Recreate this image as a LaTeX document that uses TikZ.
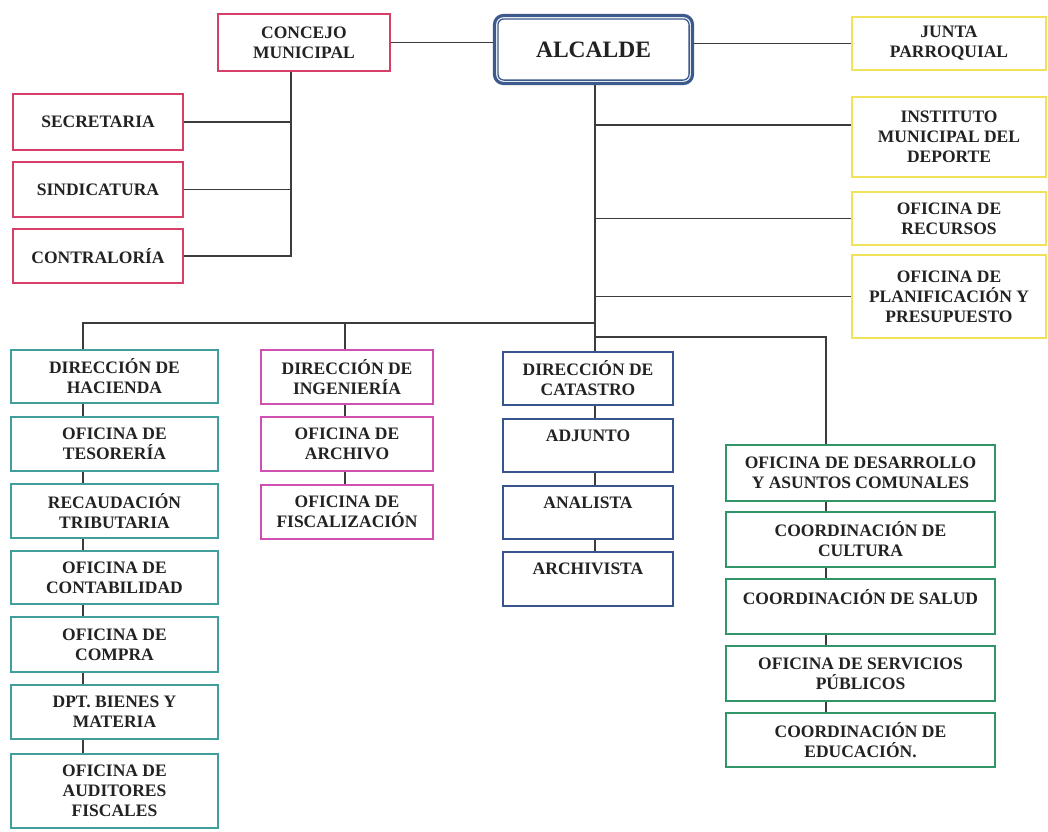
\documentclass[tikz,border=0pt]{standalone}
\usepackage{fontspec}
\setmainfont{Liberation Serif}
\definecolor{cred}{RGB}{214,64,104}
\definecolor{cteal}{RGB}{64,158,156}
\definecolor{cmag}{RGB}{208,80,176}
\definecolor{cblue}{RGB}{56,84,140}
\definecolor{calc}{RGB}{60,90,140}
\definecolor{cgreen}{RGB}{48,150,104}
\definecolor{cyel}{RGB}{240,226,90}
\definecolor{ctxt}{RGB}{34,34,34}
\definecolor{cline}{RGB}{60,60,60}
\begin{document}
\begin{tikzpicture}[x=1pt,y=-1pt,
  box/.style={draw, rectangle, align=center, inner sep=0pt, text=ctxt, fill=white,
    font=\fontsize{17.5}{20}\selectfont\bfseries},
  sz/.style 2 args={minimum width=#1pt, minimum height=#2pt},
  redbox/.style={box, draw=cred, line width=2.4pt},
  tealbox/.style={box, draw=cteal, line width=2.2pt},
  magbox/.style={box, draw=cmag, line width=2.4pt},
  bluebox/.style={box, draw=cblue, line width=2.2pt},
  greenbox/.style={box, draw=cgreen, line width=2.2pt},
  yelbox/.style={box, draw=cyel, line width=1.6pt},
  conn/.style={draw=cline, line width=1.1pt}]
\useasboundingbox (0,0) rectangle (1048,831);
\fill[white] (0,0) rectangle (1048,831);

% top row
\node[redbox, sz={172}{57}] (con) at (304,42.5) {CONCEJO\\MUNICIPAL};
\node[box, sz={198}{68}, draw=calc, line width=3.2pt,
  rounded corners=9pt, font=\fontsize{23.5}{26}\selectfont\bfseries] (alc) at (593.5,49.5) {ALCALDE};
\draw[calc, line width=1.3pt, rounded corners=6pt]
  ([shift={(5,5)}]alc.north west) rectangle ([shift={(-5,-5)}]alc.south east);
\node[yelbox, sz={194}{53}] (jun) at (949,43.5) {JUNTA\\PARROQUIAL};

% red column
\node[redbox, sz={170}{56}] (sec) at (98,122) {SECRETARIA};
\node[redbox, sz={170}{55}] (sin) at (98,189.5) {SINDICATURA};
\node[redbox, sz={170}{54}] (ctr) at (98,256) {CONTRALORÍA};

% yellow column
\node[yelbox, sz={194}{80}] (ins) at (949,137) {INSTITUTO\\MUNICIPAL DEL\\DEPORTE};
\node[yelbox, sz={194}{53}] (rec) at (949,218.5) {OFICINA DE\\RECURSOS};
\node[yelbox, sz={194}{83}] (pla) at (949,296.5) {OFICINA DE\\PLANIFICACIÓN Y\\PRESUPUESTO};

% teal column
\node[tealbox, sz={207}{53}] (hac) at (114.5,376.5) {DIRECCIÓN DE\\HACIENDA};
\node[tealbox, sz={207}{54}] (tes) at (114.5,444) {OFICINA DE\\TESORERÍA};
\node[tealbox, sz={207}{54}] (rtr) at (114.5,511) {RECAUDACIÓN\\TRIBUTARIA};
\node[tealbox, sz={207}{53}] (cnt) at (114.5,577.5) {OFICINA DE\\CONTABILIDAD};
\node[tealbox, sz={207}{55}] (cmp) at (114.5,644.5) {OFICINA DE\\COMPRA};
\node[tealbox, sz={207}{54}] (dpt) at (114.5,712) {DPT. BIENES Y\\MATERIA};
\node[tealbox, sz={207}{74}] (aud) at (114.5,791) {OFICINA DE\\AUDITORES\\FISCALES};

% magenta column
\node[magbox, sz={172}{54}] (ing) at (347,377) {DIRECCIÓN DE\\INGENIERÍA};
\node[magbox, sz={172}{54}] (arc) at (347,444) {OFICINA DE\\ARCHIVO};
\node[magbox, sz={172}{54}] (fis) at (347,512) {OFICINA DE\\FISCALIZACIÓN};

% blue column
\node[bluebox, sz={170}{53}] (cat) at (588,378.5) {DIRECCIÓN DE\\CATASTRO};
\node[bluebox, sz={170}{53}] (adj) at (588,445.5) {ADJUNTO\\~};
\node[bluebox, sz={170}{53}] (ana) at (588,512.5) {ANALISTA\\~};
\node[bluebox, sz={170}{54}] (avi) at (588,579) {ARCHIVISTA\\~};

% green column
\node[greenbox, sz={269}{56}] (des) at (860.5,473) {OFICINA DE DESARROLLO\\Y ASUNTOS COMUNALES};
\node[greenbox, sz={269}{55}] (cul) at (860.5,539.5) {COORDINACIÓN DE\\CULTURA};
\node[greenbox, sz={269}{55}] (sal) at (860.5,606.5) {COORDINACIÓN DE SALUD\\~};
\node[greenbox, sz={269}{55}] (ser) at (860.5,673.5) {OFICINA DE SERVICIOS\\PÚBLICOS};
\node[greenbox, sz={269}{54}] (edu) at (860.5,740) {COORDINACIÓN DE\\EDUCACIÓN.};

% junction coordinates
\coordinate (cv) at (291,256);
\coordinate (av) at (595,0);
\coordinate (insj) at (595,125);
\coordinate (hl) at (83,323);
\coordinate (hm) at (345,323);
\coordinate (hr) at (595,323);
\coordinate (gl) at (595,337);
\coordinate (gr) at (826,337);

% connectors
\draw[conn] (con.east) -- (con.east -| alc.west);
\draw[conn] (alc.east |- jun.west) -- (jun.west);
\draw[conn] (con.south -| cv) -- (cv) -- (ctr.east |- cv);
\draw[conn] (sec.east) -- (sec.east -| cv);
\draw[conn] (sin.east) -- (sin.east -| cv);
\draw[conn] (alc.south -| av) -- (cat.north -| av);
\draw[conn] (insj) -- (insj -| ins.west);
\draw[conn] (rec.west -| av) -- (rec.west);
\draw[conn] (pla.west -| av) -- (pla.west);
\draw[conn] (hac.north -| hl) -- (hl) -- (hr);
\draw[conn] (hm) -- (ing.north -| hm);
\draw[conn] (gl) -- (gr) -- (des.north -| gr);
\foreach \a/\b in {hac/tes,tes/rtr,rtr/cnt,cnt/cmp,cmp/dpt,dpt/aud}
  \draw[conn] (\a.south -| hl) -- (\b.north -| hl);
\foreach \a/\b in {ing/arc,arc/fis}
  \draw[conn] (\a.south -| hm) -- (\b.north -| hm);
\foreach \a/\b in {cat/adj,adj/ana,ana/avi}
  \draw[conn] (\a.south -| av) -- (\b.north -| av);
\foreach \a/\b in {des/cul,cul/sal,sal/ser,ser/edu}
  \draw[conn] (\a.south -| gr) -- (\b.north -| gr);
\end{tikzpicture}
\end{document}
